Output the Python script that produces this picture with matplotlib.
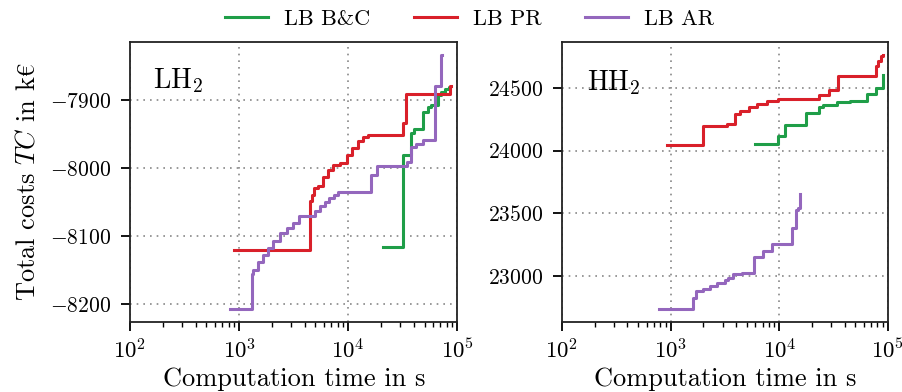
import matplotlib
matplotlib.use("Agg")
import matplotlib.pyplot as plt

plt.rcParams['font.family'] = ['cmr10', 'DejaVu Serif']
plt.rcParams['mathtext.fontset'] = 'cm'
plt.rcParams['axes.formatter.use_mathtext'] = True

# ---- data: LH2 ----
lh_pr_t = [906, 4460, 4625, 4890, 5320, 5900, 6560, 7290, 8390, 9660, 10720, 12340,
           13700, 15230, 31840, 33650, 85100, 88100]
lh_pr_v = [-8120, -8048, -8040, -8030, -8026, -8013, -8003, -7996, -7992, -7981, -7971,
           -7960, -7955, -7952, -7934.5, -7892, -7880, -7880]

lh_ar_t = [816, 1305, 1352, 1503, 1670, 1855, 2060, 2370, 2730, 3140, 3565, 4955, 5510,
           6120, 6700, 7390, 8100, 16000, 18400, 34200, 37950, 42200, 48550, 62100, 71500, 72500]
lh_ar_v = [-8207, -8156, -8150, -8138.5, -8127.5, -8117, -8107.5, -8096, -8087.5, -8081,
           -8071, -8063.5, -8056, -8050, -8043.5, -8040, -8036, -8010, -7997.5, -7991,
           -7969.5, -7965, -7958.5, -7880, -7833.5, -7833.5]

lh_bc_t = [20900, 31840, 37950, 39900, 48550, 53950, 57850, 66600, 71500, 76600, 83900, 86300]
lh_bc_v = [-8116, -7981, -7948.5, -7942.5, -7918.5, -7911, -7907.5, -7893, -7888,
           -7884.5, -7880.5, -7880.5]

# ---- data: HH2 ----
hh_pr_t = [931, 2000, 3275, 3905, 4343, 5296, 6185, 7640, 9790, 23330, 28840, 34900,
           77600, 81500, 85700, 89400]
hh_pr_v = [24046, 24196, 24209, 24291, 24312, 24345, 24372, 24394, 24408, 24446, 24481,
           24595, 24677, 24712, 24753, 24766]

hh_bc_t = [5970, 9790, 11280, 17590, 23330, 25400, 33700, 44700, 64500, 77600, 89400, 90000]
hh_bc_v = [24052, 24114, 24201, 24296, 24345, 24364, 24386, 24394, 24454, 24503, 24603, 24603]

hh_ar_t = [787, 1618, 1712, 2000, 2303, 2650, 3162, 3395, 3776, 4500, 5890, 7130, 8490,
           12970, 14120, 14950, 15500, 15600]
hh_ar_v = [22737, 22824, 22878, 22900, 22919, 22946, 22965, 22987, 23014, 23027, 23155,
           23199, 23253, 23381, 23530, 23544, 23652, 23652]

labels = ["LB B&C", "LB PR", "LB AR"]
colors = ["#1f9e48", "#d9202a", "#9467bd"]
panel_names = [r"LH$_2$", r"HH$_2$"]
xticks = [1e2, 1e3, 1e4, 1e5]

fig = plt.figure(figsize=(9.03, 3.92), dpi=100)
ax1 = fig.add_axes([0.144, 0.1793, 0.3625, 0.714])
ax2 = fig.add_axes([0.6224, 0.1793, 0.361, 0.714])

series = [
    [(lh_bc_t, lh_bc_v), (lh_pr_t, lh_pr_v), (lh_ar_t, lh_ar_v)],
    [(hh_bc_t, hh_bc_v), (hh_pr_t, hh_pr_v), (hh_ar_t, hh_ar_v)],
]
name_pos = [(0.07, 0.835), (0.076, 0.827)]

for ax, ser, name, pos in zip([ax1, ax2], series, panel_names, name_pos):
    for (t, v), lab, c in zip(ser, labels, colors):
        ax.plot(t, v, drawstyle='steps-post', color=c, lw=2.2, label=lab)
    ax.set_xscale('log')
    ax.set_xlim(1e2, 1e5)
    ax.set_xticks(xticks)
    ax.grid(True, which='major', linestyle=(0, (1, 3)), color='#888888', lw=1.2)
    for s in ax.spines.values():
        s.set_linewidth(1.3)
        s.set_color('#222222')
    ax.tick_params(which='major', length=6.5, width=1.3, pad=5)
    ax.tick_params(axis='y', labelsize=15.5, pad=7)
    ax.tick_params(axis='x', labelsize=16.5)
    ax.tick_params(which='minor', length=3.5, width=1.0)
    ax.set_xlabel("Computation time in s", fontsize=19, labelpad=4)
    ax.text(pos[0], pos[1], name, transform=ax.transAxes, fontsize=20,
            va='baseline', ha='left')

ax1.set_yticks([-8200, -8100, -8000, -7900])
ax2.set_yticks([23000, 23500, 24000, 24500])
ax1.set_ylabel(r"Total costs $TC$ in k$\mathrm{€}$", fontsize=19, labelpad=8)

handles, labs = ax1.get_legend_handles_labels()
fig.legend(handles, labs, loc='center', bbox_to_anchor=(0.52, 0.952), ncol=3,
           frameon=False, fontsize=16, handlelength=1.94, handletextpad=0.72,
           columnspacing=1.94)

fig.savefig("out.png", dpi=100)
